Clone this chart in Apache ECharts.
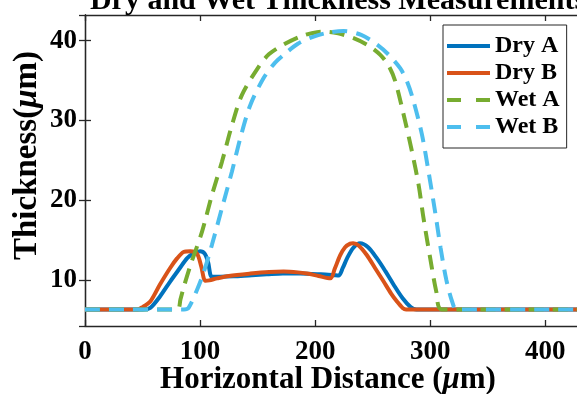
<!DOCTYPE html>
<html>
<head>
<meta charset="utf-8">
<script src="https://cdn.jsdelivr.net/npm/echarts@6/dist/echarts.min.js"></script>
<style>
  html, body { margin: 0; padding: 0; background: #fff; }
  #chart { width: 577px; height: 394px; }
</style>
</head>
<body>
<div id="chart"></div>
<script>
const seriesNames = ["Dry A", "Dry B", "Wet A", "Wet B"];

const dryAX = [0, 50, 56.7, 65, 74, 82, 88.6, 94, 100, 104, 107, 110.3, 118, 129, 145, 158, 172, 187, 205, 216, 220.4, 224, 227.7, 233, 239, 246, 253.7, 261, 268.2, 276, 283, 288, 431];
const dryAY = [6.3, 6.3, 6.5, 7.9, 9.8, 11.4, 12.7, 13.3, 13.6, 13.3, 12.2, 10.4, 10.4, 10.45, 10.6, 10.7, 10.8, 10.8, 10.7, 10.6, 10.55, 11.5, 12.7, 14.0, 14.6, 14.1, 12.7, 11.1, 9.4, 7.7, 6.6, 6.3, 6.3];

const dryBX = [0, 45.5, 50, 56.7, 65, 74, 80, 85.7, 91.5, 97.3, 101, 104.5, 108, 114.7, 125, 143.6, 160, 172.6, 185, 192.9, 203, 213.2, 217, 221.8, 226, 230.5, 233, 238, 245, 252, 259.5, 266, 271.1, 276, 279, 431];
const dryBY = [6.3, 6.3, 6.6, 7.3, 9.4, 11.5, 12.7, 13.5, 13.6, 13.3, 11.7, 9.9, 9.95, 10.2, 10.5, 10.8, 11.0, 11.05, 10.95, 10.8, 10.5, 10.2, 11.4, 13.1, 14.1, 14.55, 14.6, 14.3, 13.1, 11.5, 9.8, 8.3, 7.3, 6.5, 6.3, 6.3];

const wetAX = [0, 80, 83, 86, 92, 101.7, 110.3, 119, 127.7, 136.4, 150.9, 160, 172.6, 187, 201.6, 210, 220, 233.4, 246, 256.6, 264, 269.6, 276.9, 284.1, 289.9, 294.2, 300, 305.3, 310, 431];
const wetAY = [6.3, 6.3, 7.6, 9.2, 12.0, 16.05, 20.65, 24.8, 29.4, 33.2, 36.7, 38.3, 39.5, 40.5, 41.05, 41.1, 40.9, 40.3, 39.4, 38.2, 36.8, 34.9, 30.7, 26.1, 21.9, 17.7, 12.7, 8.5, 6.3, 6.3];

const wetBX = [0, 86, 90, 97.3, 103, 110.3, 119, 127.7, 135, 143.6, 155.2, 165, 172.6, 185, 198.7, 212, 224.7, 240, 253.7, 264, 274, 280, 285.5, 292.8, 298.6, 304.5, 309, 314, 319, 323, 431];
const wetBY = [6.3, 6.3, 6.5, 8.75, 10.9, 14.4, 19.0, 23.6, 27.8, 31.9, 35.3, 37.2, 38.2, 39.6, 40.5, 41.0, 41.2, 40.7, 39.5, 38.2, 36.5, 34.8, 32.4, 28.2, 23.5, 18.3, 14.0, 10.0, 7.3, 6.3, 6.3];

const xTicks = [0, 100, 200, 300, 400];
const yTicks = [10, 20, 30, 40];

const colors = ["#0072BD", "#D95319", "#77AC30", "#4DBEEE"];
const serif = "Liberation Serif";
const axisColor = "#262626";

// legend keys: a solid bar or two dashes, like the MATLAB legend
const solidIcon = "path://M0,0H43V4H0Z";
const dashIcon = "path://M0,0H14V4H0ZM29,0H43V4H29Z";

function zip(xs, ys) {
  return xs.map((x, i) => [x, ys[i]]);
}

const chart = echarts.init(document.getElementById("chart"), null, { renderer: "canvas" });

const pairs = [[dryAX, dryAY], [dryBX, dryBY], [wetAX, wetAY], [wetBX, wetBY]];

const series = pairs.map(([xs, ys], i) => ({
  name: seriesNames[i],
  type: "line",
  data: zip(xs, ys),
  showSymbol: false,
  symbol: "none",
  smooth: 0.3,
  lineStyle: {
    color: colors[i],
    width: 4,
    type: i < 2 ? "solid" : [15, 9],
  },
  itemStyle: { color: colors[i] },
  z: 2 + i,
}));

const tickLabel = { fontFamily: serif, fontWeight: "bold", fontSize: 27, color: "#000" };
const nameStyle = (size) => ({
  fontFamily: serif, fontWeight: "bold", fontSize: size, color: "#000",
  rich: { i: { fontFamily: serif, fontWeight: "bold", fontStyle: "italic", fontSize: size, color: "#000" } },
});

chart.setOption({
  animation: false,
  backgroundColor: "#fff",
  title: {
    text: "Dry and Wet Thickness Measurements",
    left: 333,
    top: -19,
    textAlign: "center",
    textStyle: { fontFamily: serif, fontWeight: "bold", fontSize: 30, color: "#000" },
  },
  legend: {
    data: seriesNames.map((name, i) => ({ name, icon: i < 2 ? solidIcon : dashIcon })),
    orient: "vertical",
    left: 443,
    top: 25,
    itemWidth: 43,
    itemHeight: 4,
    itemGap: 3,
    itemSymbolKeepAspect: false,
    padding: [9, 7, 9, 4],
    backgroundColor: "#fff",
    borderColor: axisColor,
    borderWidth: 1,
    borderRadius: 0,
    textStyle: { fontFamily: serif, fontWeight: "bold", fontSize: 24, color: "#000", lineHeight: 24 },
  },
  grid: { left: 85, right: -4, top: 15, bottom: 68, containLabel: false, outerBoundsMode: "none" },
  xAxis: [
    {
      type: "value",
      min: 0,
      max: 431,
      interval: 100,
      name: "Horizontal Distance ({i|μ}m)",
      nameLocation: "middle",
      nameGap: 38,
      nameMoveOverlap: false,
      nameTextStyle: Object.assign(nameStyle(31), { padding: [0, 10, 0, 0] }),
      axisLine: { show: true, lineStyle: { color: axisColor, width: 1.3 } },
      axisTick: { show: true, inside: true, length: 6, lineStyle: { color: axisColor, width: 1.3 } },
      axisLabel: Object.assign({ margin: 13, showMaxLabel: false, formatter: (v) => (xTicks.includes(v) ? String(v) : "") }, tickLabel),
      splitLine: { show: false },
    },
    {
      type: "value",
      position: "top",
      min: 0,
      max: 431,
      interval: 100,
      axisLine: { show: true, lineStyle: { color: axisColor, width: 1.3 } },
      axisTick: { show: true, inside: true, length: 6, lineStyle: { color: axisColor, width: 1.3 } },
      axisLabel: { show: false },
      splitLine: { show: false },
    },
  ],
  yAxis: [
    {
      type: "value",
      min: 4.23,
      max: 43.2,
      splitNumber: 4,
      name: "Thickness({i|μ}m)",
      nameLocation: "middle",
      nameRotate: 90,
      nameGap: 41,
      nameMoveOverlap: false,
      nameTextStyle: Object.assign(nameStyle(33), { padding: [0, 0, 0, 30] }),
      axisLine: { show: true, lineStyle: { color: axisColor, width: 1.3 } },
      axisTick: { show: true, inside: true, length: 6, lineStyle: { color: axisColor, width: 1.3 } },
      axisLabel: Object.assign({ margin: 8, showMinLabel: false, showMaxLabel: false, formatter: (v) => (yTicks.includes(v) ? String(v) : "") }, tickLabel),
      splitLine: { show: false },
    },
    {
      type: "value",
      position: "right",
      min: 4.23,
      max: 43.2,
      splitNumber: 4,
      axisLine: { show: true, lineStyle: { color: axisColor, width: 1.3 } },
      axisTick: { show: true, inside: true, length: 6, lineStyle: { color: axisColor, width: 1.3 } },
      axisLabel: { show: false },
      splitLine: { show: false },
    },
  ],
  series,
});
</script>
</body>
</html>
